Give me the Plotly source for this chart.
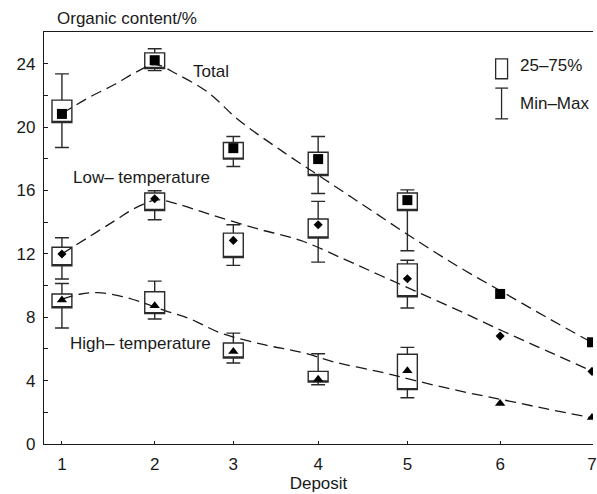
import plotly.graph_objects as go

# ---------------- data ----------------
deposit_labels = ["1", "2", "3", "4", "5", "6", "7"]
deposit_pos = [1.0, 2.05, 2.94, 3.90, 4.91, 5.96, 7.0]   # tick positions as drawn

# Total organic content
total_mean = [20.83, 24.22, 18.67, 17.98, 15.39, 9.47, 6.42]
total_q1 = [20.29, 23.70, 17.98, 16.94, 14.74]
total_q3 = [21.70, 24.68, 19.03, 18.41, 15.84]
total_min = [18.71, 23.56, 17.51, 15.81, 12.20]
total_max = [23.36, 24.94, 19.41, 19.41, 16.04]

# Low-temperature fraction
low_mean = [11.99, 15.48, 12.85, 13.84, 10.43, 6.81, 4.58]
low_q1 = [11.25, 14.74, 11.77, 13.00, 9.29]
low_q3 = [12.42, 15.84, 13.31, 14.20, 11.37]
low_min = [10.41, 14.15, 11.27, 11.48, 8.58]
low_max = [13.02, 15.98, 13.84, 15.31, 11.60]

# High-temperature fraction
high_mean = [9.08, 8.72, 5.84, 4.09, 4.62, 2.56, 1.67]
high_q1 = [8.60, 8.23, 5.43, 3.91, 3.43]
high_q3 = [9.47, 9.61, 6.37, 4.58, 5.66]
high_min = [7.32, 7.89, 5.11, 3.74, 2.92]
high_max = [10.13, 10.28, 7.00, 5.70, 6.10]

# Dashed trend curves
total_curve_x = [1.0, 1.3, 1.6, 1.85, 2.05, 2.3, 2.65, 3.0, 3.5, 4.0, 4.5, 5.0, 5.5, 6.0, 6.5, 7.0]
total_curve_y = [20.85, 21.85, 22.7, 23.5, 23.95, 23.35, 22.2, 20.45, 18.45, 16.6, 14.75, 12.9, 11.15, 9.55, 7.95, 6.4]
low_curve_x = [1.0, 1.3, 1.6, 1.85, 2.07, 2.3, 2.7, 3.2, 3.7, 4.2, 4.6, 5.0, 5.5, 6.0, 6.5, 7.0]
low_curve_y = [12.0, 13.05, 14.1, 14.95, 15.4, 15.15, 14.45, 13.6, 12.85, 11.65, 10.65, 9.65, 8.4, 7.1, 5.85, 4.6]
high_curve_x = [1.0, 1.2, 1.4, 1.65, 1.9, 2.15, 2.45, 2.8, 3.3, 3.7, 4.1, 4.6, 5.0, 5.5, 6.0, 6.5, 7.0]
high_curve_y = [9.15, 9.45, 9.55, 9.35, 8.95, 8.45, 7.9, 7.0, 6.25, 5.8, 5.15, 4.55, 4.0, 3.35, 2.78, 2.2, 1.65]

series_labels = ["Total", "Low\u2013 temperature", "High\u2013 temperature"]
y_ticks = [0, 4, 8, 12, 16, 20, 24]

# ---------------- styling ----------------
FONT = "Liberation Sans, Arial, Helvetica, sans-serif"
INK = "#1a1a1a"
FS = 17
BOX_W = 0.225

fig = go.Figure()

# dashed curves
for cx, cy in [(total_curve_x, total_curve_y), (low_curve_x, low_curve_y), (high_curve_x, high_curve_y)]:
    fig.add_trace(go.Scatter(x=cx, y=cy, mode="lines",
                             line=dict(color=INK, width=1.3, dash="11px,6px", shape="spline", smoothing=1.0),
                             showlegend=False, hoverinfo="skip"))

# boxes (25-75%) with min-max whiskers
box_pos = deposit_pos[:5]
for q1, q3, lo, hi in [(total_q1, total_q3, total_min, total_max),
                       (low_q1, low_q3, low_min, low_max),
                       (high_q1, high_q3, high_min, high_max)]:
    fig.add_trace(go.Box(x=box_pos, q1=q1, median=q1, q3=q3, lowerfence=lo, upperfence=hi,
                         width=BOX_W, whiskerwidth=0.7, boxpoints=False,
                         fillcolor="rgba(0,0,0,0)", line=dict(color="#2a2a2a", width=1.4),
                         showlegend=False, hoverinfo="skip"))

# mean markers
for ys, sym, size in [(total_mean, "square", 10), (low_mean, "diamond", 7), (high_mean, "triangle-up", 9)]:
    fig.add_trace(go.Scatter(x=deposit_pos, y=ys, mode="markers",
                             marker=dict(symbol=sym, size=size, color="#000000", line=dict(width=0)),
                             showlegend=False, hoverinfo="skip"))

# series labels
label_pos = [(2.69, 23.5), (1.90, 16.8), (1.885, 6.34)]
annotations = []
for txt, (ax_, ay_) in zip(series_labels, label_pos):
    annotations.append(dict(x=ax_, y=ay_, xref="x", yref="y", text=txt, showarrow=False,
                            font=dict(family=FONT, size=FS, color=INK), xanchor="center", yanchor="middle"))

# y-axis caption at the top
annotations.append(dict(x=0.0194, y=1.033, xref="paper", yref="paper", text="Organic content/%",
                        showarrow=False, font=dict(family=FONT, size=FS, color=INK),
                        xanchor="left", yanchor="middle"))

# legend key (drawn)
annotations.append(dict(x=6.16, y=23.87, xref="x", yref="y", text="25\u201375%", showarrow=False,
                        font=dict(family=FONT, size=FS, color=INK), xanchor="left", yanchor="middle"))
annotations.append(dict(x=6.16, y=21.47, xref="x", yref="y", text="Min\u2013Max", showarrow=False,
                        font=dict(family=FONT, size=FS, color=INK), xanchor="left", yanchor="middle"))

shapes = [
    dict(type="rect", xref="x", yref="y", x0=5.909, x1=6.044, y0=23.05, y1=24.31,
         line=dict(color="#2a2a2a", width=1.3), fillcolor="rgba(0,0,0,0)"),
    dict(type="line", xref="x", yref="y", x0=5.976, x1=5.976, y0=20.52, y1=22.46,
         line=dict(color="#2a2a2a", width=1.3)),
    dict(type="line", xref="x", yref="y", x0=5.905, x1=6.05, y0=22.46, y1=22.46,
         line=dict(color="#2a2a2a", width=1.3)),
    dict(type="line", xref="x", yref="y", x0=5.905, x1=6.05, y0=20.52, y1=20.52,
         line=dict(color="#2a2a2a", width=1.3)),
]

fig.update_layout(
    width=597, height=494,
    margin=dict(l=44, r=0, t=32, b=50),
    paper_bgcolor="white", plot_bgcolor="white",
    boxmode="overlay",
    showlegend=False,
    font=dict(family=FONT, size=FS, color=INK),
    annotations=annotations,
    shapes=shapes,
)

fig.update_xaxes(
    range=[0.797, 7.011],
    tickmode="array", tickvals=deposit_pos, ticktext=deposit_labels,
    ticks="inside", ticklen=3, tickwidth=1, tickcolor=INK,
    showline=True, linecolor=INK, linewidth=1.3, mirror=True,
    showgrid=False, zeroline=False,
    ticklabeloverflow="allow", ticklabelstandoff=4,
    tickfont=dict(family=FONT, size=FS, color=INK),
    title=dict(text="Deposit", font=dict(family=FONT, size=FS, color=INK), standoff=4),
)
fig.update_yaxes(
    range=[0, 26],
    tickmode="array", tickvals=y_ticks,
    ticks="inside", ticklen=4, tickwidth=1, tickcolor=INK,
    minor=dict(tickmode="array", tickvals=[2, 6, 10, 14, 18, 22], ticks="inside", ticklen=4, tickcolor=INK),
    showline=True, linecolor=INK, linewidth=1.3, mirror=False,
    showgrid=False, zeroline=False,
    ticklabelstandoff=4,
    tickfont=dict(family=FONT, size=FS, color=INK),
)

fig.write_html("out.html")
